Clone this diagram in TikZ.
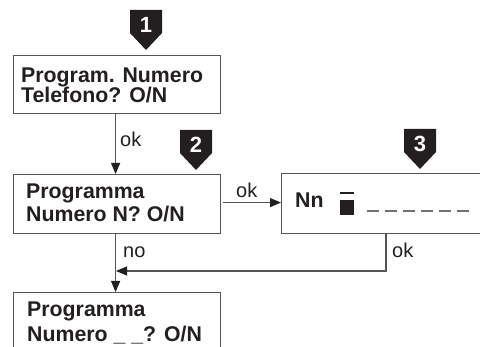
\documentclass[tikz,border=0pt]{standalone}
\usepackage{fontspec}
\setmainfont{Liberation Sans}
\usetikzlibrary{arrows.meta}
\definecolor{ink}{HTML}{231F20}
\definecolor{linec}{HTML}{555555}
\definecolor{dashc}{HTML}{707070}
\tikzset{
  box/.style={draw=linec, line width=1.2pt, rectangle, inner sep=0pt, anchor=north west},
  txt/.style={font=\fontsize{21.3}{24}\selectfont\bfseries, text=ink, inner sep=0pt, anchor=base west},
  lbl/.style={font=\fontsize{20}{24}\selectfont, text=ink, inner sep=0pt, anchor=base west},
  badge/.style={fill=ink, draw=none},
  num/.style={font=\fontsize{22}{24}\selectfont\bfseries, text=white, inner sep=0pt},
  conn/.style={draw=linec, line width=1.1pt},
  arr/.style={conn, -{Triangle[length=11pt,width=9pt,color=ink]}},
}
\begin{document}
\begin{tikzpicture}[x=1pt,y=-1pt]
\useasboundingbox (0,0) rectangle (480,347);
\clip (0,0) rectangle (480,347);
% boxes
\node[box, minimum width=207pt, minimum height=58pt] (b1) at (13,55) {};
\node[box, minimum width=207pt, minimum height=59pt] (b2) at (13,174) {};
\node[box, minimum width=230pt, minimum height=60pt] (b3) at (281,173) {};
\node[box, minimum width=207pt, minimum height=70pt] (b4) at (13,292) {};
% texts
\node[txt] (t1a) at (21,83) {Program. Numero};
\node[txt] (t1b) at (21,103) {Telefono? O/N};
\node[txt] (t2a) at (26,199) {Programma};
\node[txt] (t2b) at (26,222) {Numero N? O/N};
\node[txt] (t3) at (295,208) {Nn};
\node[txt] (t4a) at (27,317) {Programma};
\node[txt] (t4b) at (27,342) {Numero \_ \_? O/N};
% cursor and dashes in box 3
\fill[ink] (340,192) rectangle (354,194.5);
\fill[ink] (340,200) rectangle (354,215);
\foreach \xx in {367,385,403,421,439,457}
  \draw[dashc, line width=1.3pt] (\xx,211) -- ++(11.5,0);
% badges
\foreach \bx/\by/\nn/\name in {146/10/1/n1, 196/130/2/n2, 420/129/3/n3}{
  \fill[badge] (\bx-16,\by) -- (\bx+16,\by) -- (\bx+16,\by+23) -- (\bx,\by+40) -- (\bx-16,\by+23) -- cycle;
  \node[num] (\name) at (\bx,\by+15) {\nn};
}
% connectors
\coordinate (j1) at (115,271);
\draw[arr] ([xshift=-1.5pt]b1.south) -- ([xshift=-1.5pt]b2.north);
\draw[arr] ([xshift=1.5pt,yshift=1.5pt]b2.east) -- ([yshift=1.5pt]b2.east -| b3.west);
\draw[arr] ([xshift=-1.5pt]b2.south) -- ([xshift=-1.5pt]b4.north);
\draw[arr] (b3.south west -| 386,0) |- ([xshift=1pt]j1);
% labels
\node[lbl] (l1) at (120,147) {ok};
\node[lbl] (l2) at (236,198) {ok};
\node[lbl] (l3) at (123,258) {no};
\node[lbl] (l4) at (392,258) {ok};
\end{tikzpicture}
\end{document}
